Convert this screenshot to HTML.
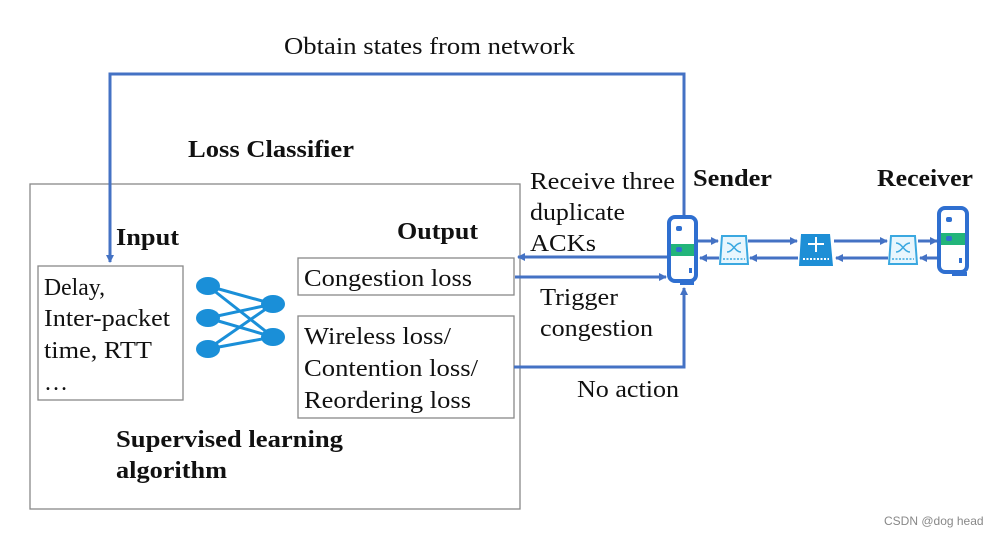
<!DOCTYPE html>
<html><head><meta charset="utf-8"><style>
body{margin:0;background:#fff}
svg text{font-family:"Liberation Serif",serif;fill:#111}
.b{font-weight:bold}
</style></head><body>
<svg width="1007" height="537" viewBox="0 0 1007 537" xmlns="http://www.w3.org/2000/svg">
<defs>
<marker id="a" markerWidth="8" markerHeight="8" refX="7" refY="4" orient="auto" markerUnits="userSpaceOnUse"><path d="M0,0 L8,4 L0,8 z" fill="#4472c4"/></marker>
</defs>
<g fill="none" stroke="#888" stroke-width="1.3">
<rect x="30" y="184" width="490" height="325"/>
<rect x="38" y="266" width="145" height="134"/>
<rect x="298" y="258" width="216" height="37"/>
<rect x="298" y="316" width="216" height="102"/>
</g>
<g fill="none" stroke="#4472c4" stroke-width="3">
<path d="M684,218 V74 H110 V262" marker-end="url(#a)"/>
<path d="M668,257 H518" marker-end="url(#a)"/>
<path d="M515,277 H666" marker-end="url(#a)"/>
<path d="M514,367 H684 V288" marker-end="url(#a)"/>
<path d="M698,241 H718" marker-end="url(#a)"/>
<path d="M719,258 H700" marker-end="url(#a)"/>
<path d="M748,241 H797" marker-end="url(#a)"/>
<path d="M798,258 H750" marker-end="url(#a)"/>
<path d="M834,241 H887" marker-end="url(#a)"/>
<path d="M888,258 H836" marker-end="url(#a)"/>
<path d="M918,241 H937" marker-end="url(#a)"/>
<path d="M938,258 H920" marker-end="url(#a)"/>
</g>
<g stroke="#1a8fd8" stroke-width="3">
<line x1="208" y1="286" x2="273" y2="304"/><line x1="208" y1="286" x2="273" y2="337"/>
<line x1="208" y1="318" x2="273" y2="304"/><line x1="208" y1="318" x2="273" y2="337"/>
<line x1="208" y1="349" x2="273" y2="304"/><line x1="208" y1="349" x2="273" y2="337"/>
</g>
<g fill="#1a8fd8">
<ellipse cx="208" cy="286" rx="12" ry="9"/><ellipse cx="208" cy="318" rx="12" ry="9"/><ellipse cx="208" cy="349" rx="12" ry="9"/>
<ellipse cx="273" cy="304" rx="12" ry="9"/><ellipse cx="273" cy="337" rx="12" ry="9"/>
</g>
<g>
<rect x="669" y="217" width="27" height="64" rx="6" fill="none" stroke="#2f6fd0" stroke-width="4"/>
<rect x="671" y="244" width="23" height="12" fill="#22b57a"/>
<rect x="676" y="226" width="6" height="5" rx="2" fill="#2f6fd0"/>
<rect x="676" y="247" width="6" height="5" rx="2" fill="#2f6fd0"/>
<rect x="689" y="268" width="3" height="5" fill="#2f6fd0"/>
<rect x="680" y="281" width="14" height="4" fill="#2f6fd0"/>
</g>
<g>
<rect x="939" y="208" width="28" height="64" rx="6" fill="none" stroke="#2f6fd0" stroke-width="4"/>
<rect x="941" y="233" width="24" height="12" fill="#22b57a"/>
<rect x="946" y="217" width="6" height="5" rx="2" fill="#2f6fd0"/>
<rect x="946" y="236" width="6" height="5" rx="2" fill="#2f6fd0"/>
<rect x="959" y="258" width="3" height="5" fill="#2f6fd0"/>
<rect x="952" y="272" width="15" height="4" fill="#2f6fd0"/>
</g>
<g fill="#e8f6fd" stroke="#3aa8e0" stroke-width="2">
<path d="M722,236 H746 L748,264 H720 Z"/>
<path d="M891,236 H915 L917,264 H889 Z"/>
</g>
<g stroke="#3aa8e0" stroke-width="1.5" fill="none">
<path d="M727,243 C733,243 735,252 741,252 M727,252 C733,252 735,243 741,243"/>
<path d="M896,243 C902,243 904,252 910,252 M896,252 C902,252 904,243 910,243"/>
<line x1="723" y1="259" x2="745" y2="259" stroke-dasharray="2,1.5"/>
<line x1="892" y1="259" x2="914" y2="259" stroke-dasharray="2,1.5"/>
</g>
<path d="M801,234 H830 L833,266 H799 Z" fill="#1e8fd6"/>
<g stroke="#fff" stroke-width="2"><line x1="816" y1="237" x2="816" y2="252"/><line x1="808" y1="244" x2="824" y2="244"/></g>
<line x1="803" y1="259" x2="829" y2="259" stroke="#fff" stroke-width="2" stroke-dasharray="2,1.5"/>
<g font-size="24" lengthAdjust="spacingAndGlyphs">
<text x="284" y="54" textLength="291" lengthAdjust="spacingAndGlyphs">Obtain states from network</text>
<text x="188" y="157" class="b" textLength="166" lengthAdjust="spacingAndGlyphs">Loss Classifier</text>
<text x="530" y="189" textLength="145" lengthAdjust="spacingAndGlyphs">Receive three</text>
<text x="530" y="220" textLength="95" lengthAdjust="spacingAndGlyphs">duplicate</text>
<text x="530" y="251" textLength="66" lengthAdjust="spacingAndGlyphs">ACKs</text>
<text x="693" y="186" class="b" textLength="79" lengthAdjust="spacingAndGlyphs">Sender</text>
<text x="877" y="186" class="b" textLength="96" lengthAdjust="spacingAndGlyphs">Receiver</text>
<text x="540" y="305" textLength="78" lengthAdjust="spacingAndGlyphs">Trigger</text>
<text x="540" y="336" textLength="113" lengthAdjust="spacingAndGlyphs">congestion</text>
<text x="577" y="397" textLength="102" lengthAdjust="spacingAndGlyphs">No action</text>
<text x="116" y="245" class="b" textLength="63" lengthAdjust="spacingAndGlyphs">Input</text>
<text x="397" y="239" class="b" textLength="81" lengthAdjust="spacingAndGlyphs">Output</text>
<text x="44" y="295" textLength="61" lengthAdjust="spacingAndGlyphs">Delay,</text>
<text x="44" y="326" textLength="126" lengthAdjust="spacingAndGlyphs">Inter-packet</text>
<text x="44" y="358" textLength="108" lengthAdjust="spacingAndGlyphs">time, RTT</text>
<text x="44" y="390">…</text>
<text x="304" y="286" textLength="168" lengthAdjust="spacingAndGlyphs">Congestion loss</text>
<text x="304" y="344" textLength="147" lengthAdjust="spacingAndGlyphs">Wireless loss/</text>
<text x="304" y="376" textLength="174" lengthAdjust="spacingAndGlyphs">Contention loss/</text>
<text x="304" y="408" textLength="167" lengthAdjust="spacingAndGlyphs">Reordering loss</text>
<text x="116" y="447" class="b" textLength="227" lengthAdjust="spacingAndGlyphs">Supervised learning</text>
<text x="116" y="478" class="b" textLength="111" lengthAdjust="spacingAndGlyphs">algorithm</text>
</g>
<text x="884" y="525" font-size="12" style="font-family:'Liberation Sans',sans-serif;fill:#888">CSDN @dog head</text>
</svg>
</body></html>
